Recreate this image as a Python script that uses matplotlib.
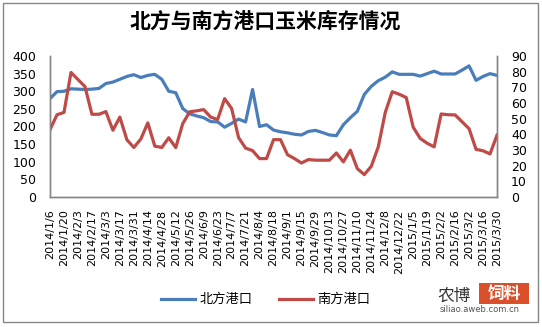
import numpy as np
import pandas as pd
import matplotlib
matplotlib.use("Agg")
import matplotlib.pyplot as plt
from matplotlib.patches import Rectangle

plt.rcParams['font.family'] = ['Noto Sans CJK SC', 'DejaVu Sans']

# weekly sampling dates, 2014/1/6 .. 2015/3/30
dates = pd.date_range("2014-01-06", "2015-03-30", freq="7D")
date_labels = [f"{d.year}/{d.month}/{d.day}" for d in dates]

# 北方港口 (left axis, 万吨)
north = [279, 299, 300, 307, 306, 305, 306, 308, 322, 326,
         334, 342, 347, 339, 345, 348, 334, 300, 296, 251,
         236, 230, 225, 214, 213, 198, 209, 221, 213, 305,
         200, 205, 190, 185, 182, 178, 176, 186, 189, 183,
         176, 174, 205, 225, 243, 291, 314, 330, 340, 355,
         348, 348, 348, 343, 350, 357, 349, 349, 349, 360,
         372, 331, 342, 350, 345]

# 南方港口 (right axis, 万吨)
south = [43, 52.5, 54, 79.5, 75, 70.5, 52.8, 52.8, 54.5, 42.6,
         51, 36.6, 31.6, 37, 47.3, 32.5, 31.6, 37.8, 31.5, 46.8,
         54.4, 55, 55.8, 51, 49.5, 62.8, 56.5, 37.9, 31.2, 29.6,
         24.5, 24.5, 36.6, 36.6, 27, 24.5, 21.7, 23.9, 23.5, 23.5,
         23.5, 28.1, 22.4, 29.9, 18.1, 14.3, 19.6, 32, 54, 67.2,
         65.6, 63.5, 44.5, 37.4, 34.3, 32, 53, 52.5, 52.4, 48,
         43.6, 30.4, 29.5, 27.5, 39.5]

blue = "#4A7EBB"
red = "#BE4B48"
axis_gray = "#868686"

fig = plt.figure(figsize=(5.42, 3.27), dpi=100)
ax = fig.add_axes([0.0923, 0.3976, 0.8247, 0.4311])
ax2 = ax.twinx()

x = np.arange(len(dates))
ln1, = ax.plot(x, north, color=blue, lw=2.3, label="北方港口", solid_joinstyle="round")
ln2, = ax2.plot(x, south, color=red, lw=2.3, label="南方港口", solid_joinstyle="round")

ax.set_xlim(0, len(dates) - 1)
ax.set_ylim(0, 400)
ax2.set_ylim(0, 90)
ax.set_yticks(np.arange(0, 401, 50))
ax2.set_yticks(np.arange(0, 91, 10))
ax.set_xticks(x[::2])
ax.set_xticklabels(date_labels[::2], rotation=90, family="DejaVu Sans", fontsize=8)

for a in (ax, ax2):
    a.spines['top'].set_visible(False)
    for s in ('left', 'right', 'bottom'):
        a.spines[s].set_color(axis_gray)
        a.spines[s].set_linewidth(1.0)
    a.tick_params(length=0)
ax.tick_params(axis='y', pad=10, labelsize=9.5)
ax2.tick_params(axis='y', pad=10, labelsize=9.5)
ax.tick_params(axis='x', pad=9)
for lab in ax.get_yticklabels() + ax2.get_yticklabels():
    lab.set_family("DejaVu Sans")
    lab.set_fontsize(9)

fig.text(0.49, 0.935, "北方与南方港口玉米库存情况", ha="center", va="center",
         fontsize=15, fontweight="bold")

fig.legend(handles=[ln1, ln2], loc="center", bbox_to_anchor=(0.49, 0.083),
           ncol=2, frameon=False, fontsize=9.5, handlelength=2.6,
           handletextpad=0.3, columnspacing=2.0)

# chart border
fig.patches.append(Rectangle((3 / 542, 5 / 327), 535 / 542, 319 / 327,
                             transform=fig.transFigure, fill=False,
                             edgecolor=axis_gray, lw=1.0))

# site mark in the lower right corner
fig.text(454 / 542, 1 - 296 / 327, "农博", ha="center", va="center",
         fontsize=12, color="#333333")
fig.patches.append(Rectangle((479 / 542, 1 - 304 / 327), 50 / 542, 21 / 327,
                             transform=fig.transFigure, facecolor="#D9502B",
                             edgecolor="none"))
fig.text(504 / 542, 1 - 294 / 327, "饲料", ha="center", va="center",
         fontsize=12, color="white", fontweight="bold")
fig.text(480 / 542, 1 - 309 / 327, "siliao.aweb.com.cn", ha="center", va="center",
         fontsize=6, color="#555555", family="DejaVu Sans")

fig.savefig("out.png", dpi=100)
